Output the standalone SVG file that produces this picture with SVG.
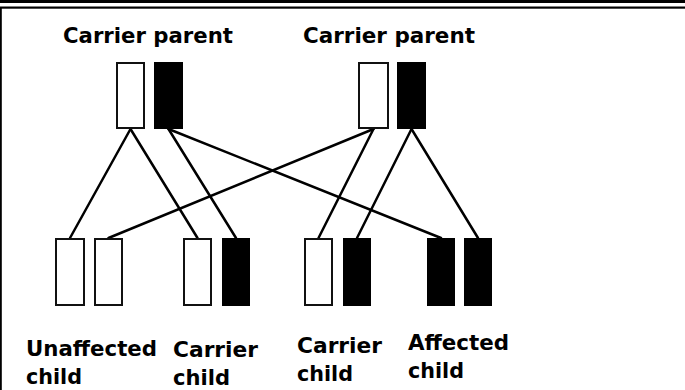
<svg xmlns="http://www.w3.org/2000/svg" width="685" height="390" viewBox="0 0 685 390">
<style>
.w{fill:#fff;stroke:#111;stroke-width:2}
.b{fill:#000;stroke:#000;stroke-width:2}
.t{font-family:"DejaVu Sans","Liberation Sans",sans-serif;font-weight:bold;font-size:21px;fill:#000}
.c line{stroke:#000;stroke-width:2.5;stroke-linecap:round}
</style>
<rect width="685" height="390" fill="#fff"/>
<rect x="0" y="0" width="685" height="3" fill="#000"/>
<rect x="0" y="6.5" width="685" height="2.2" fill="#000"/>
<rect x="0" y="7" width="1.8" height="383" fill="#000"/>
<g id="connectors" class="c">
<line x1="130.5" y1="129" x2="70" y2="238"/>
<line x1="130.5" y1="129" x2="197.5" y2="238"/>
<line x1="168.5" y1="129" x2="236" y2="238"/>
<line x1="168.5" y1="129" x2="441" y2="238"/>
<line x1="373.5" y1="129" x2="108.5" y2="238"/>
<line x1="373.5" y1="129" x2="318.5" y2="238"/>
<line x1="411.5" y1="129" x2="357" y2="238"/>
<line x1="411.5" y1="129" x2="478" y2="238"/>
</g>
<g id="parent1">
<text class="t" x="63" y="43" textLength="170" lengthAdjust="spacingAndGlyphs">Carrier parent</text>
<rect class="w" x="117" y="63" width="27" height="65"/>
<rect class="b" x="155" y="63" width="27" height="65"/>
</g>
<g id="parent2">
<text class="t" x="303" y="43" textLength="172" lengthAdjust="spacingAndGlyphs">Carrier parent</text>
<rect class="w" x="359" y="63" width="29" height="65"/>
<rect class="b" x="398" y="63" width="27" height="65"/>
</g>
<g id="child1">
<rect class="w" x="56" y="239" width="28" height="66"/>
<rect class="w" x="95" y="239" width="27" height="66"/>
<text class="t" x="26" y="356" textLength="131" lengthAdjust="spacingAndGlyphs">Unaffected</text>
<text class="t" x="26" y="384" textLength="56" lengthAdjust="spacingAndGlyphs">child</text>
</g>
<g id="child2">
<rect class="w" x="184" y="239" width="27" height="66"/>
<rect class="b" x="223" y="239" width="26" height="66"/>
<text class="t" x="173" y="357" textLength="85" lengthAdjust="spacingAndGlyphs">Carrier</text>
<text class="t" x="173" y="385" textLength="57" lengthAdjust="spacingAndGlyphs">child</text>
</g>
<g id="child3">
<rect class="w" x="305" y="239" width="27" height="66"/>
<rect class="b" x="344" y="239" width="26" height="66"/>
<text class="t" x="297" y="353" textLength="85" lengthAdjust="spacingAndGlyphs">Carrier</text>
<text class="t" x="297" y="381" textLength="56" lengthAdjust="spacingAndGlyphs">child</text>
</g>
<g id="child4">
<rect class="b" x="428" y="239" width="26" height="66"/>
<rect class="b" x="465" y="239" width="26" height="66"/>
<text class="t" x="408" y="350" textLength="101" lengthAdjust="spacingAndGlyphs">Affected</text>
<text class="t" x="408" y="378" textLength="56" lengthAdjust="spacingAndGlyphs">child</text>
</g>
</svg>
